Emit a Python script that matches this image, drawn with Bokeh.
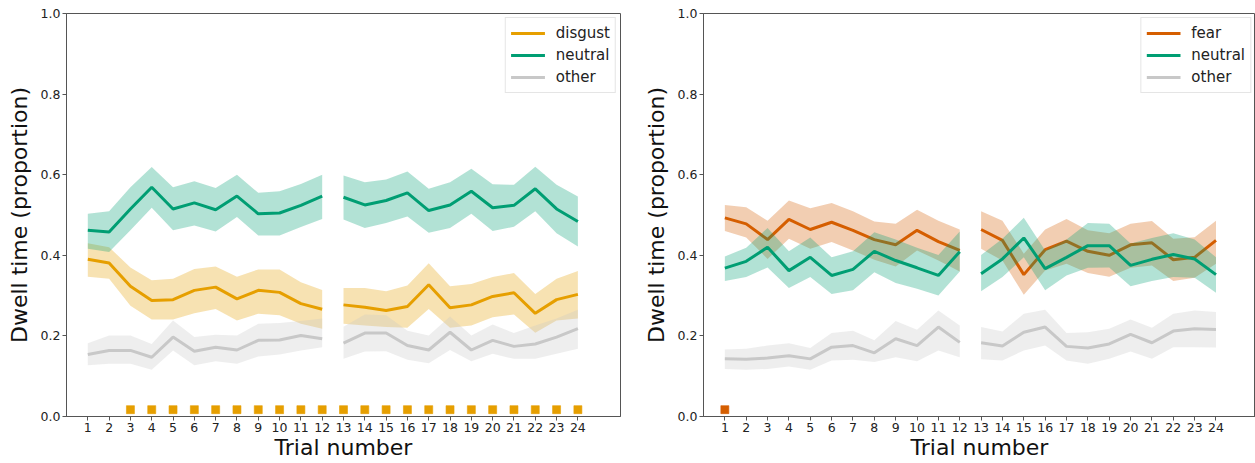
from bokeh.plotting import figure
from bokeh.layouts import row
from bokeh.models import Legend, LegendItem, Range1d, FixedTicker, PrintfTickFormatter
from bokeh.embed import file_html
from bokeh.resources import INLINE

trials = list(range(1, 25))
y_ticks = [0.0, 0.2, 0.4, 0.6, 0.8, 1.0]

# ---- Left panel: disgust vs neutral vs other ----
disgust_mean = [0.390, 0.381, 0.323, 0.288, 0.290, 0.313, 0.321, 0.292, 0.313, 0.308, 0.280, 0.266,
                0.277, 0.271, 0.263, 0.273, 0.327, 0.270, 0.277, 0.298, 0.307, 0.256, 0.290, 0.303]
disgust_hi = [0.430, 0.420, 0.370, 0.338, 0.342, 0.366, 0.372, 0.347, 0.365, 0.365, 0.333, 0.314,
              0.319, 0.319, 0.311, 0.325, 0.380, 0.323, 0.329, 0.346, 0.356, 0.304, 0.342, 0.361]
disgust_lo = [0.347, 0.342, 0.275, 0.241, 0.241, 0.256, 0.267, 0.238, 0.255, 0.251, 0.230, 0.218,
              0.230, 0.226, 0.222, 0.220, 0.267, 0.220, 0.226, 0.246, 0.253, 0.208, 0.238, 0.243]

neutralL_mean = [0.462, 0.458, 0.515, 0.569, 0.515, 0.530, 0.513, 0.547, 0.503, 0.505, 0.524, 0.547,
                 0.544, 0.525, 0.536, 0.555, 0.511, 0.525, 0.559, 0.518, 0.524, 0.565, 0.515, 0.484]
neutralL_hi = [0.503, 0.509, 0.569, 0.619, 0.569, 0.584, 0.567, 0.600, 0.555, 0.559, 0.577, 0.600,
               0.598, 0.581, 0.588, 0.608, 0.565, 0.581, 0.615, 0.576, 0.575, 0.620, 0.575, 0.546]
neutralL_lo = [0.416, 0.408, 0.462, 0.518, 0.462, 0.474, 0.459, 0.495, 0.449, 0.449, 0.470, 0.490,
               0.489, 0.468, 0.480, 0.496, 0.456, 0.468, 0.503, 0.460, 0.471, 0.509, 0.455, 0.422]

otherL_mean = [0.154, 0.164, 0.164, 0.147, 0.197, 0.162, 0.172, 0.165, 0.189, 0.190, 0.201, 0.193,
               0.182, 0.207, 0.207, 0.176, 0.165, 0.209, 0.165, 0.189, 0.174, 0.180, 0.197, 0.218]
otherL_hi = [0.182, 0.201, 0.201, 0.180, 0.238, 0.197, 0.203, 0.201, 0.230, 0.232, 0.237, 0.243,
             0.223, 0.253, 0.251, 0.213, 0.201, 0.248, 0.201, 0.228, 0.207, 0.226, 0.243, 0.265]
otherL_lo = [0.127, 0.131, 0.131, 0.116, 0.164, 0.127, 0.137, 0.131, 0.149, 0.154, 0.164, 0.172,
             0.143, 0.161, 0.162, 0.141, 0.132, 0.165, 0.137, 0.156, 0.143, 0.143, 0.156, 0.168]

sig_left = [3, 4, 5, 6, 7, 8, 9, 10, 11, 12, 13, 14, 15, 16, 17, 18, 19, 20, 21, 22, 23, 24]

# ---- Right panel: fear vs neutral vs other ----
fear_mean = [0.493, 0.478, 0.439, 0.489, 0.464, 0.482, 0.462, 0.439, 0.426, 0.462, 0.434, 0.412,
             0.464, 0.437, 0.352, 0.414, 0.435, 0.410, 0.400, 0.426, 0.431, 0.389, 0.395, 0.437]
fear_hi = [0.525, 0.519, 0.486, 0.536, 0.517, 0.530, 0.509, 0.484, 0.478, 0.513, 0.486, 0.464,
           0.509, 0.486, 0.404, 0.464, 0.490, 0.462, 0.455, 0.478, 0.485, 0.441, 0.445, 0.486]
fear_lo = [0.460, 0.444, 0.391, 0.441, 0.416, 0.433, 0.412, 0.389, 0.372, 0.412, 0.387, 0.360,
           0.416, 0.387, 0.302, 0.362, 0.379, 0.356, 0.347, 0.369, 0.375, 0.336, 0.344, 0.379]

neutralR_mean = [0.368, 0.385, 0.420, 0.362, 0.395, 0.350, 0.365, 0.410, 0.387, 0.369, 0.350, 0.409,
                 0.354, 0.391, 0.443, 0.367, 0.395, 0.424, 0.424, 0.375, 0.390, 0.402, 0.391, 0.352]
neutralR_hi = [0.397, 0.419, 0.468, 0.410, 0.444, 0.395, 0.410, 0.457, 0.439, 0.419, 0.401, 0.459,
               0.401, 0.441, 0.493, 0.412, 0.439, 0.480, 0.478, 0.429, 0.443, 0.455, 0.439, 0.395]
neutralR_lo = [0.336, 0.346, 0.370, 0.319, 0.346, 0.304, 0.313, 0.358, 0.331, 0.317, 0.300, 0.360,
               0.311, 0.346, 0.395, 0.313, 0.350, 0.369, 0.370, 0.323, 0.336, 0.346, 0.344, 0.307]

otherR_mean = [0.143, 0.142, 0.145, 0.151, 0.143, 0.172, 0.176, 0.158, 0.193, 0.176, 0.222, 0.184,
               0.183, 0.175, 0.209, 0.222, 0.174, 0.170, 0.180, 0.204, 0.183, 0.212, 0.218, 0.216]
otherR_hi = [0.166, 0.168, 0.176, 0.182, 0.170, 0.207, 0.213, 0.189, 0.237, 0.215, 0.263, 0.226,
             0.222, 0.211, 0.255, 0.265, 0.207, 0.209, 0.218, 0.241, 0.220, 0.255, 0.263, 0.259]
otherR_lo = [0.118, 0.116, 0.118, 0.124, 0.116, 0.139, 0.141, 0.135, 0.147, 0.137, 0.164, 0.147,
             0.142, 0.139, 0.164, 0.176, 0.139, 0.131, 0.143, 0.161, 0.143, 0.172, 0.172, 0.171]

sig_right = [1]

ORANGE = "#E69F00"
GREEN = "#009E73"
VERMILION = "#D55E00"
GREY = "#C8C8C8"
SPINE = "#555555"
FONT = "DejaVu Sans"


def make_panel(width, border_left, border_right, x_end, series, sig, sig_color):
    p = figure(width=width, height=463, x_range=Range1d(0, x_end), y_range=Range1d(0, 1),
               output_backend="svg", toolbar_location=None,
               min_border_left=border_left, min_border_right=border_right,
               min_border_top=13, min_border_bottom=47)
    p.xgrid.visible = False
    p.ygrid.visible = False
    p.outline_line_color = SPINE
    p.outline_line_width = 1

    items = []
    for label, mean, lo, hi, color in series:
        renderers = []
        for a, b in ((0, 12), (12, 24)):
            xs = trials[a:b]
            p.varea(x=xs, y1=lo[a:b], y2=hi[a:b], fill_color=color, fill_alpha=0.3)
        for a, b in ((0, 12), (12, 24)):
            xs = trials[a:b]
            r = p.line(x=xs, y=mean[a:b], line_color=color, line_width=3)
            renderers.append(r)
        items.append(LegendItem(label=label, renderers=renderers))

    p.scatter(x=sig, y=[0.017] * len(sig), marker="square", size=8,
              fill_color=sig_color, line_color=sig_color, line_alpha=0.6)

    legend = Legend(items=items, location="top_right", margin=4, padding=5,
                    spacing=2, glyph_width=34, glyph_height=20, label_height=20,
                    label_standoff=11, label_text_font=FONT, label_text_font_size="15px",
                    label_text_color="#222222",
                    border_line_color="#cccccc", border_line_width=1,
                    background_fill_color="white", background_fill_alpha=0.8)
    p.add_layout(legend)

    p.xaxis.ticker = FixedTicker(ticks=trials)
    p.yaxis.ticker = FixedTicker(ticks=y_ticks)
    p.yaxis.formatter = PrintfTickFormatter(format="%.1f")
    p.xaxis.axis_label = "Trial number"
    p.yaxis.axis_label = "Dwell time (proportion)"
    for ax in (p.xaxis[0], p.yaxis[0]):
        ax.axis_label_text_font = FONT
        ax.axis_label_text_font_size = "22px"
        ax.axis_label_text_font_style = "normal"
        ax.axis_label_text_color = "#111111"
        ax.major_label_text_font = FONT
        ax.major_label_text_font_size = "12.5px"
        ax.major_label_text_color = "#222222"
        ax.axis_line_color = SPINE
        ax.major_tick_line_color = SPINE
        ax.major_tick_out = 4
        ax.major_tick_in = 0
        ax.minor_tick_line_color = None
    p.xaxis.major_label_standoff = 2
    p.xaxis.axis_label_standoff = 0
    p.yaxis.major_label_standoff = 2
    p.yaxis.axis_label_standoff = 6
    return p


left = make_panel(640, 66, 20, 26,
                  [("disgust", disgust_mean, disgust_lo, disgust_hi, ORANGE),
                   ("neutral", neutralL_mean, neutralL_lo, neutralL_hi, GREEN),
                   ("other", otherL_mean, otherL_lo, otherL_hi, GREY)],
                  sig_left, ORANGE)

right = make_panel(615, 62, 0, 25.85,
                   [("fear", fear_mean, fear_lo, fear_hi, VERMILION),
                    ("neutral", neutralR_mean, neutralR_lo, neutralR_hi, GREEN),
                    ("other", otherR_mean, otherR_lo, otherR_hi, GREY)],
                   sig_right, VERMILION)

layout = row(left, right)
open("out.html", "w").write(file_html(layout, INLINE))
